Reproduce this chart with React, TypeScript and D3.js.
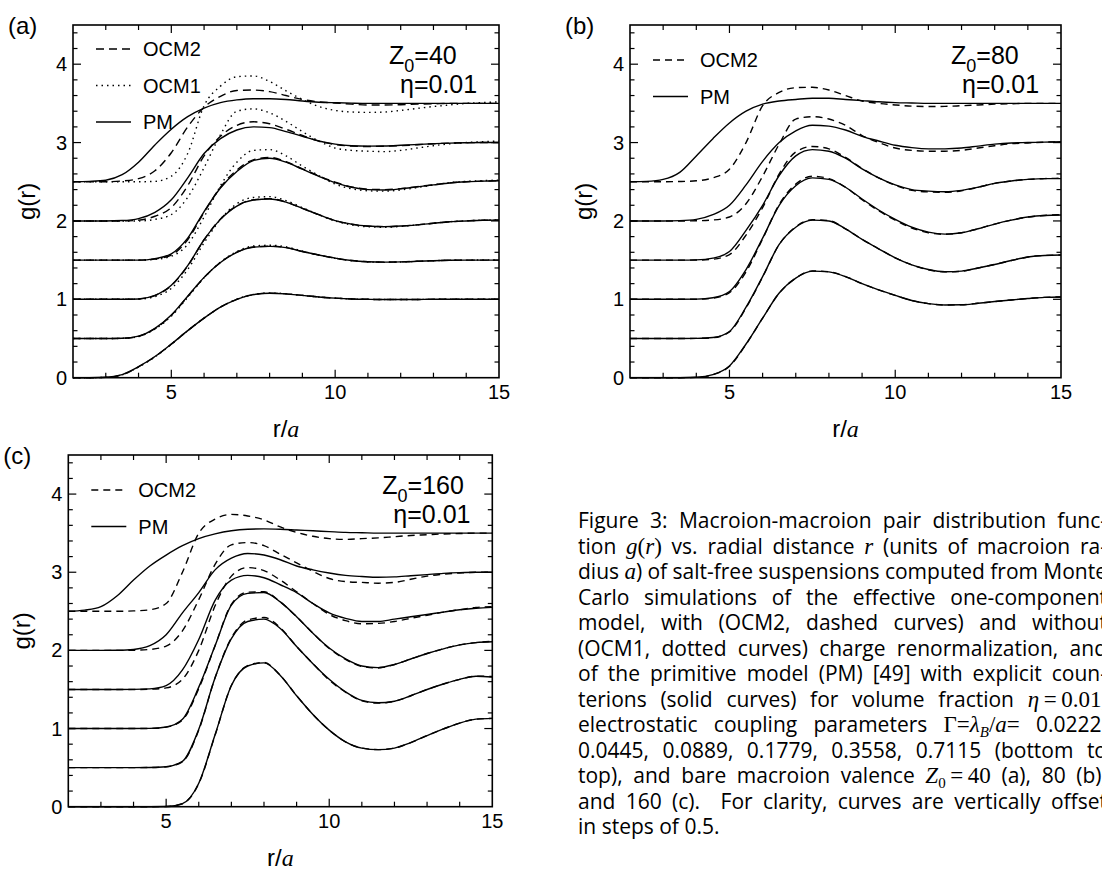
import React, { useLayoutEffect, useRef } from "react";
import * as d3 from "d3";

// r/a sample grid
const R = [2, 2.5, 3, 3.5, 4, 4.5, 5, 5.5, 6, 6.5, 7, 7.5, 8, 8.5, 9, 9.5, 10, 10.5, 11, 11.5, 12, 12.5, 13, 13.5, 14, 14.5, 15];
// vertical offsets (bottom to top)
const OFFSETS = [0, 0.5, 1, 1.5, 2, 2.5];

// ---- Panel (a) Z0=40 ----
const A_PM = [
  [0, 0, 0.005, 0.04, 0.14, 0.27, 0.43, 0.6, 0.76, 0.9, 1.0, 1.06, 1.078, 1.07, 1.05, 1.03, 1.015, 1.005, 1.0, 0.997, 0.997, 0.998, 1.0, 1.0, 1.0, 1.0, 1.0],
  [0, 0, 0, 0.003, 0.03, 0.13, 0.3, 0.54, 0.78, 0.97, 1.1, 1.165, 1.175, 1.16, 1.11, 1.065, 1.025, 0.995, 0.98, 0.975, 0.978, 0.985, 0.993, 0.998, 1.0, 1.0, 1.0],
  [0, 0, 0, 0, 0.005, 0.05, 0.18, 0.43, 0.76, 1.02, 1.19, 1.265, 1.28, 1.24, 1.16, 1.08, 1.005, 0.96, 0.935, 0.928, 0.935, 0.95, 0.97, 0.99, 1.0, 1.008, 1.01],
  [0, 0, 0, 0, 0, 0.02, 0.08, 0.28, 0.62, 0.92, 1.13, 1.27, 1.3, 1.25, 1.16, 1.07, 0.99, 0.93, 0.9, 0.895, 0.91, 0.935, 0.96, 0.985, 1.0, 1.008, 1.012],
  [0, 0, 0, 0.005, 0.03, 0.11, 0.27, 0.55, 0.86, 1.05, 1.16, 1.2, 1.19, 1.14, 1.08, 1.02, 0.98, 0.96, 0.955, 0.957, 0.965, 0.975, 0.985, 0.993, 0.998, 1.0, 1.0],
  [0, 0.005, 0.02, 0.09, 0.25, 0.47, 0.67, 0.83, 0.94, 1.01, 1.045, 1.06, 1.06, 1.05, 1.03, 1.015, 1.008, 1.003, 1.0, 1.0, 1.0, 1.0, 1.0, 1.0, 1.0, 1.0, 1.0],
];
const A_OCM2 = [
  [0, 0, 0.004, 0.038, 0.138, 0.268, 0.428, 0.6, 0.76, 0.9, 1.0, 1.06, 1.078, 1.07, 1.05, 1.03, 1.015, 1.005, 1.0, 0.997, 0.997, 0.998, 1.0, 1.0, 1.0, 1.0, 1.0],
  [0, 0, 0, 0.002, 0.028, 0.125, 0.295, 0.535, 0.778, 0.97, 1.102, 1.168, 1.178, 1.16, 1.11, 1.065, 1.025, 0.995, 0.98, 0.975, 0.978, 0.985, 0.993, 0.998, 1.0, 1.0, 1.0],
  [0, 0, 0, 0, 0.005, 0.048, 0.175, 0.425, 0.76, 1.025, 1.195, 1.27, 1.285, 1.242, 1.16, 1.08, 1.005, 0.958, 0.933, 0.927, 0.935, 0.95, 0.97, 0.99, 1.0, 1.008, 1.012],
  [0, 0, 0, 0, 0, 0.015, 0.065, 0.26, 0.61, 0.93, 1.15, 1.28, 1.31, 1.255, 1.165, 1.075, 0.995, 0.935, 0.905, 0.9, 0.912, 0.937, 0.962, 0.986, 1.0, 1.008, 1.012],
  [0, 0, 0, 0, 0.01, 0.06, 0.17, 0.45, 0.83, 1.08, 1.22, 1.265, 1.24, 1.17, 1.09, 1.02, 0.975, 0.955, 0.95, 0.953, 0.96, 0.972, 0.985, 0.993, 0.998, 1.0, 1.0],
  [0, 0, 0, 0.01, 0.04, 0.14, 0.37, 0.7, 0.95, 1.09, 1.165, 1.17, 1.15, 1.1, 1.05, 1.02, 1.005, 0.99, 0.98, 0.98, 0.983, 0.99, 0.995, 1.0, 1.0, 1.0, 1.0],
];
const A_OCM1 = [
  [0, 0, 0.004, 0.037, 0.135, 0.265, 0.425, 0.598, 0.76, 0.9, 1.002, 1.062, 1.08, 1.072, 1.05, 1.03, 1.015, 1.005, 1.0, 0.997, 0.997, 0.998, 1.0, 1.0, 1.0, 1.0, 1.0],
  [0, 0, 0, 0.002, 0.025, 0.12, 0.285, 0.525, 0.775, 0.975, 1.11, 1.18, 1.19, 1.17, 1.115, 1.065, 1.022, 0.992, 0.977, 0.972, 0.976, 0.984, 0.993, 0.998, 1.0, 1.002, 1.004],
  [0, 0, 0, 0, 0.003, 0.035, 0.14, 0.38, 0.72, 1.02, 1.22, 1.3, 1.31, 1.26, 1.17, 1.08, 1.0, 0.95, 0.925, 0.92, 0.93, 0.95, 0.972, 0.99, 1.002, 1.01, 1.015],
  [0, 0, 0, 0, 0, 0.01, 0.05, 0.2, 0.55, 0.95, 1.25, 1.4, 1.41, 1.33, 1.2, 1.08, 0.97, 0.91, 0.885, 0.88, 0.895, 0.925, 0.96, 0.99, 1.005, 1.015, 1.02],
  [0, 0, 0, 0, 0, 0.02, 0.08, 0.3, 0.68, 1.1, 1.4, 1.43, 1.38, 1.27, 1.14, 1.02, 0.93, 0.9, 0.89, 0.885, 0.9, 0.93, 0.96, 0.985, 1.0, 1.01, 1.02],
  [0, 0, 0, 0, 0, 0.005, 0.07, 0.36, 0.97, 1.22, 1.34, 1.35, 1.28, 1.16, 1.05, 0.96, 0.91, 0.89, 0.885, 0.89, 0.91, 0.935, 0.96, 0.98, 1.0, 1.01, 1.02],
];

// ---- Panel (b) Z0=80 ----
const B_PM = [
  [0, 0, 0, 0, 0.005, 0.04, 0.15, 0.43, 0.76, 1.08, 1.27, 1.36, 1.35, 1.29, 1.2, 1.12, 1.05, 0.985, 0.945, 0.928, 0.93, 0.95, 0.972, 0.992, 1.01, 1.025, 1.03],
  [0, 0, 0, 0, 0.002, 0.012, 0.09, 0.4, 0.79, 1.2, 1.42, 1.51, 1.5, 1.4, 1.265, 1.145, 1.03, 0.94, 0.88, 0.852, 0.86, 0.9, 0.945, 0.995, 1.04, 1.06, 1.065],
  [0, 0, 0, 0, 0.002, 0.02, 0.1, 0.38, 0.78, 1.2, 1.45, 1.55, 1.53, 1.43, 1.28, 1.14, 1.02, 0.92, 0.857, 0.832, 0.85, 0.9, 0.96, 1.01, 1.05, 1.07, 1.075],
  [0, 0, 0, 0, 0.003, 0.025, 0.11, 0.38, 0.7, 1.08, 1.33, 1.41, 1.39, 1.3, 1.165, 1.05, 0.96, 0.9, 0.88, 0.872, 0.89, 0.93, 0.98, 1.01, 1.03, 1.04, 1.04],
  [0, 0, 0, 0.004, 0.02, 0.08, 0.2, 0.46, 0.76, 1.0, 1.15, 1.22, 1.21, 1.16, 1.08, 1.02, 0.965, 0.935, 0.92, 0.92, 0.93, 0.955, 0.98, 0.995, 1.0, 1.005, 1.01],
  [0, 0.005, 0.03, 0.12, 0.33, 0.55, 0.75, 0.9, 0.99, 1.03, 1.05, 1.065, 1.065, 1.05, 1.035, 1.02, 1.01, 1.005, 1.0, 1.0, 1.0, 1.0, 1.0, 1.0, 1.0, 1.0, 1.0],
];
const B_OCM2 = [
  [0, 0, 0, 0, 0.004, 0.038, 0.145, 0.425, 0.76, 1.08, 1.272, 1.362, 1.352, 1.29, 1.2, 1.12, 1.05, 0.985, 0.945, 0.928, 0.93, 0.95, 0.972, 0.992, 1.01, 1.025, 1.03],
  [0, 0, 0, 0, 0.002, 0.01, 0.085, 0.39, 0.785, 1.2, 1.425, 1.515, 1.505, 1.4, 1.265, 1.145, 1.03, 0.94, 0.878, 0.85, 0.858, 0.9, 0.945, 0.995, 1.04, 1.06, 1.065],
  [0, 0, 0, 0, 0.001, 0.015, 0.085, 0.35, 0.77, 1.21, 1.47, 1.57, 1.54, 1.43, 1.27, 1.13, 1.01, 0.91, 0.85, 0.83, 0.85, 0.9, 0.96, 1.01, 1.05, 1.07, 1.08],
  [0, 0, 0, 0, 0.001, 0.012, 0.07, 0.32, 0.67, 1.1, 1.38, 1.45, 1.42, 1.31, 1.17, 1.05, 0.955, 0.89, 0.87, 0.865, 0.885, 0.93, 0.98, 1.01, 1.03, 1.04, 1.045],
  [0, 0, 0, 0, 0.002, 0.012, 0.05, 0.22, 0.57, 0.98, 1.3, 1.33, 1.3, 1.22, 1.09, 1.0, 0.93, 0.9, 0.89, 0.89, 0.9, 0.93, 0.96, 0.985, 0.995, 1.005, 1.01],
  [0, 0, 0, 0.003, 0.012, 0.05, 0.16, 0.5, 0.97, 1.14, 1.2, 1.205, 1.17, 1.1, 1.03, 1.0, 0.98, 0.965, 0.96, 0.962, 0.97, 0.98, 0.99, 0.995, 1.0, 1.0, 1.0],
];

// ---- Panel (c) Z0=160 ----
const C_PM = [
  [0, 0, 0, 0, 0, 0, 0.002, 0.04, 0.3, 0.92, 1.55, 1.8, 1.84, 1.68, 1.42, 1.18, 0.98, 0.83, 0.75, 0.73, 0.75, 0.82, 0.91, 0.995, 1.07, 1.12, 1.13],
  [0, 0, 0, 0, 0, 0.001, 0.012, 0.08, 0.49, 1.15, 1.65, 1.87, 1.9, 1.78, 1.55, 1.33, 1.13, 0.97, 0.86, 0.83, 0.85, 0.92, 1.0, 1.07, 1.13, 1.17, 1.16],
  [0, 0, 0, 0, 0, 0.002, 0.02, 0.12, 0.53, 1.06, 1.58, 1.73, 1.74, 1.62, 1.43, 1.22, 1.03, 0.89, 0.8, 0.78, 0.82, 0.89, 0.96, 1.02, 1.07, 1.1, 1.11],
  [0, 0, 0, 0, 0.001, 0.008, 0.05, 0.25, 0.64, 1.14, 1.4, 1.46, 1.43, 1.34, 1.24, 1.1, 0.98, 0.91, 0.87, 0.87, 0.9, 0.93, 0.96, 0.99, 1.02, 1.04, 1.05],
  [0, 0, 0, 0.002, 0.012, 0.06, 0.2, 0.48, 0.74, 1.03, 1.18, 1.24, 1.22, 1.16, 1.08, 1.03, 0.99, 0.96, 0.945, 0.935, 0.94, 0.955, 0.97, 0.985, 0.995, 1.0, 1.0],
  [0, 0.015, 0.06, 0.2, 0.4, 0.58, 0.72, 0.84, 0.93, 0.99, 1.03, 1.05, 1.055, 1.05, 1.04, 1.03, 1.02, 1.01, 1.005, 1.0, 1.0, 1.0, 1.0, 1.0, 1.0, 1.0, 1.0],
];
const C_OCM2 = [
  [0, 0, 0, 0, 0, 0, 0.002, 0.038, 0.295, 0.915, 1.55, 1.805, 1.845, 1.68, 1.42, 1.18, 0.98, 0.83, 0.75, 0.73, 0.75, 0.82, 0.91, 0.995, 1.07, 1.12, 1.13],
  [0, 0, 0, 0, 0, 0.001, 0.01, 0.075, 0.48, 1.15, 1.66, 1.89, 1.92, 1.79, 1.55, 1.33, 1.12, 0.965, 0.855, 0.825, 0.848, 0.92, 1.0, 1.07, 1.13, 1.17, 1.165],
  [0, 0, 0, 0, 0, 0.002, 0.018, 0.11, 0.51, 1.06, 1.59, 1.745, 1.75, 1.62, 1.43, 1.22, 1.025, 0.885, 0.795, 0.775, 0.818, 0.89, 0.96, 1.02, 1.07, 1.1, 1.115],
  [0, 0, 0, 0, 0, 0.003, 0.02, 0.13, 0.5, 1.07, 1.45, 1.56, 1.52, 1.4, 1.25, 1.1, 0.96, 0.88, 0.84, 0.845, 0.87, 0.91, 0.95, 0.99, 1.02, 1.05, 1.06],
  [0, 0, 0, 0, 0.002, 0.012, 0.055, 0.25, 0.65, 1.1, 1.35, 1.38, 1.34, 1.23, 1.12, 1.01, 0.92, 0.88, 0.87, 0.86, 0.87, 0.91, 0.95, 0.975, 0.99, 1.0, 1.0],
  [0, 0, 0, 0, 0.005, 0.02, 0.1, 0.5, 1.0, 1.18, 1.24, 1.22, 1.17, 1.08, 1.01, 0.96, 0.93, 0.92, 0.93, 0.94, 0.955, 0.97, 0.98, 0.99, 0.995, 1.0, 1.0],
];

const X_MAJOR = [5, 10, 15];
const Y_MAJOR = [0, 1, 2, 3, 4];

const SANS = "'Liberation Sans', Arial, Helvetica, sans-serif";
const SERIF = "'Liberation Serif', 'Times New Roman', serif";
const CAP = "'Open Sans', 'Noto Sans', sans-serif";
const CAP_SIZE = 21;

type Series = { data: number[][]; dash: string | null };
type PanelCfg = {
  left: number; right: number; top: number; bottom: number;
  label: string; z: string; series: Series[]; legend: { name: string; dash: string | null }[];
};

function Panel({ c }: { c: PanelCfg }) {
  const x = d3.scaleLinear().domain([2, 15]).range([c.left, c.right]);
  const y = d3.scaleLinear().domain([0, 4.5]).range([c.bottom, c.top]);
  const xt = x.ticks(13);
  const yt = y.ticks(18);
  const midY = (c.top + c.bottom) / 2;
  const midX = (c.left + c.right) / 2;
  const mk = (off: number) =>
    d3.line<number>().x((_, i) => x(R[i])).y((v) => y(v + off)).curve(d3.curveMonotoneX);
  return (
    <g>
      {c.series.map((s, si) =>
        s.data.map((arr, k) => (
          <path key={si + "-" + k} d={mk(OFFSETS[k])(arr) || ""} fill="none" stroke="#000"
            strokeWidth={1.4} strokeDasharray={s.dash || undefined} />
        ))
      )}
      <rect x={c.left} y={c.top} width={c.right - c.left} height={c.bottom - c.top} fill="none" stroke="#000" strokeWidth={1.6} />
      {xt.map((v) => {
        const L = v % 5 === 0 ? 8 : 5;
        if (v === 2 || v === 15) return null;
        return (
          <g key={"xt" + v}>
            <line x1={x(v)} x2={x(v)} y1={c.bottom} y2={c.bottom - L} stroke="#000" strokeWidth={1.2} />
            <line x1={x(v)} x2={x(v)} y1={c.top} y2={c.top + L} stroke="#000" strokeWidth={1.2} />
          </g>
        );
      })}
      {yt.map((v) => {
        const L = Number.isInteger(v) ? 8 : 4.5;
        if (v === 0 || v === 4.5) return null;
        return (
          <g key={"yt" + v}>
            <line x1={c.left} x2={c.left + L} y1={y(v)} y2={y(v)} stroke="#000" strokeWidth={1.2} />
            <line x1={c.right} x2={c.right - L} y1={y(v)} y2={y(v)} stroke="#000" strokeWidth={1.2} />
          </g>
        );
      })}
      {X_MAJOR.map((v) => (
        <text key={"xl" + v} x={x(v)} y={c.bottom + 21} textAnchor="middle" fontFamily={SANS} fontSize={20}>{v}</text>
      ))}
      {Y_MAJOR.map((v) => (
        <text key={"yl" + v} x={c.left - 6} y={y(v) + 7} textAnchor="end" fontFamily={SANS} fontSize={20}>{v}</text>
      ))}
      <text x={c.left - 38} y={midY} transform={`rotate(-90 ${c.left - 38} ${midY})`} textAnchor="middle" fontFamily={SANS} fontSize={24}>g(r)</text>
      <text x={midX} y={c.bottom + 59} textAnchor="middle" fontSize={24}>
        <tspan fontFamily={SANS}>r/</tspan><tspan fontFamily={SERIF} fontStyle="italic">a</tspan>
      </text>
      <text x={c.left - 65} y={c.top + 9} fontFamily={SANS} fontSize={24}>{c.label}</text>
      <text x={c.right - 110} y={c.top + 39} fontFamily={SANS} fontSize={25}>
        Z<tspan fontSize={18} dy={8}>0</tspan><tspan dy={-8}>={c.z}</tspan>
      </text>
      <text x={c.right - 99} y={c.top + 68} fontFamily={SANS} fontSize={25}>η=0.01</text>
      {c.legend.map((l, i) => {
        const ly = c.top + (c.legend.length === 3 ? 24 : 35) + i * 36.5;
        return (
          <g key={"lg" + i}>
            <line x1={c.left + 23} x2={c.left + 58} y1={ly} y2={ly} stroke="#000" strokeWidth={1.4}
              strokeDasharray={l.dash || undefined} />
            <text x={c.left + 70} y={ly + 7} fontFamily={SANS} fontSize={20}>{l.name}</text>
          </g>
        );
      })}
    </g>
  );
}

const DASH_A = "8,5";
const DASH_BC = "7,5";
const DOT = "1.5,4";

const PANELS: PanelCfg[] = [
  {
    left: 73, right: 499, top: 25, bottom: 377.7, label: "(a)", z: "40",
    series: [{ data: A_PM, dash: null }, { data: A_OCM2, dash: DASH_A }, { data: A_OCM1, dash: DOT }],
    legend: [{ name: "OCM2", dash: DASH_A }, { name: "OCM1", dash: DOT }, { name: "PM", dash: null }],
  },
  {
    left: 630, right: 1061, top: 25, bottom: 377.7, label: "(b)", z: "80",
    series: [{ data: B_PM, dash: null }, { data: B_OCM2, dash: DASH_BC }],
    legend: [{ name: "OCM2", dash: DASH_BC }, { name: "PM", dash: null }],
  },
  {
    left: 68.3, right: 492.3, top: 455, bottom: 806.7, label: "(c)", z: "160",
    series: [{ data: C_PM, dash: null }, { data: C_OCM2, dash: DASH_BC }],
    legend: [{ name: "OCM2", dash: DASH_BC }, { name: "PM", dash: null }],
  },
];

// caption lines: [text, kind]; kinds: n = sans, i = italic serif, r = roman serif, is/rs = subscript
type Seg = [string, string];
const CAPTION: Seg[][] = [
  [["Figure 3: Macroion-macroion pair distribution func-", "n"]],
  [["tion ", "n"], ["g", "i"], ["(", "r"], ["r", "i"], [")", "r"], [" vs. radial distance ", "n"], ["r", "i"], [" (units of macroion ra-", "n"]],
  [["dius ", "n"], ["a", "i"], [") of salt-free suspensions computed from Monte", "n"]],
  [["Carlo simulations of the effective one-component", "n"]],
  [["model, with (OCM2, dashed curves) and without", "n"]],
  [["(OCM1, dotted curves) charge renormalization, and", "n"]],
  [["of the primitive model (PM) [49] with explicit coun-", "n"]],
  [["terions (solid curves) for volume fraction ", "n"], ["η", "i"], ["\u2009=\u20090.01", "r"], [",", "n"]],
  [["electrostatic coupling parameters ", "n"], ["Γ=", "r"], ["λ", "i"], ["B", "is"], ["/", "r"], ["a", "i"], ["=", "r"], [" 0.0222,", "n"]],
  [["0.0445, 0.0889, 0.1779, 0.3558, 0.7115 (bottom to", "n"]],
  [["top), and bare macroion valence ", "n"], ["Z", "i"], ["0", "rs"], ["\u2009=\u200940", "r"], [" (a), 80 (b),", "n"]],
  [["and 160 (c).  For clarity, curves are vertically offset", "n"]],
  [["in steps of 0.5.", "n"]],
];
const CAP_LEFT = 578;
const CAP_RIGHT = 1107;
const CAP_TOP = 528;
const CAP_STEP = 25.5;

function Caption() {
  const ref = useRef<SVGGElement>(null);
  useLayoutEffect(() => {
    const fit = () => {
      const g = ref.current;
      if (!g) return;
      const texts = Array.from(g.querySelectorAll("text[data-j='1']")) as SVGTextElement[];
      texts.forEach((t) => {
        t.setAttribute("word-spacing", "0");
        const w = t.getComputedTextLength();
        const n = (t.textContent || "").split(" ").length - 1;
        if (n > 0) t.setAttribute("word-spacing", String(Math.max(-3, (CAP_RIGHT - CAP_LEFT - w) / n)));
      });
    };
    fit();
    (document as any).fonts?.ready?.then(fit);
  }, []);
  return (
    <g ref={ref}>
      {CAPTION.map((line, li) => (
        <text key={li} data-j={li < CAPTION.length - 1 ? "1" : "0"} x={CAP_LEFT} y={CAP_TOP + li * CAP_STEP}
          fontFamily={CAP} fontSize={CAP_SIZE} style={{ whiteSpace: "pre" }}>
          {line.map(([t, k], si) => {
            const prevSub = si > 0 && (line[si - 1][1] === "is" || line[si - 1][1] === "rs");
            const isSub = k === "is" || k === "rs";
            const dy = isSub ? 5 : prevSub ? -5 : undefined;
            return (
              <tspan key={si} dy={dy}
                fontFamily={k === "n" ? CAP : SERIF}
                fontStyle={k === "i" || k === "is" ? "italic" : undefined}
                fontSize={isSub ? 15 : k === "n" ? CAP_SIZE : 23}>{t}</tspan>
            );
          })}
        </text>
      ))}
    </g>
  );
}

export default function App() {
  return (
    <svg width={1102} height={870} viewBox="0 0 1102 870" style={{ display: "block", position: "absolute", left: 0, top: 0, background: "#fff" }}>
      <rect x={0} y={0} width={1102} height={870} fill="#fff" />
      {PANELS.map((p, i) => <Panel key={i} c={p} />)}
      <Caption />
    </svg>
  );
}
